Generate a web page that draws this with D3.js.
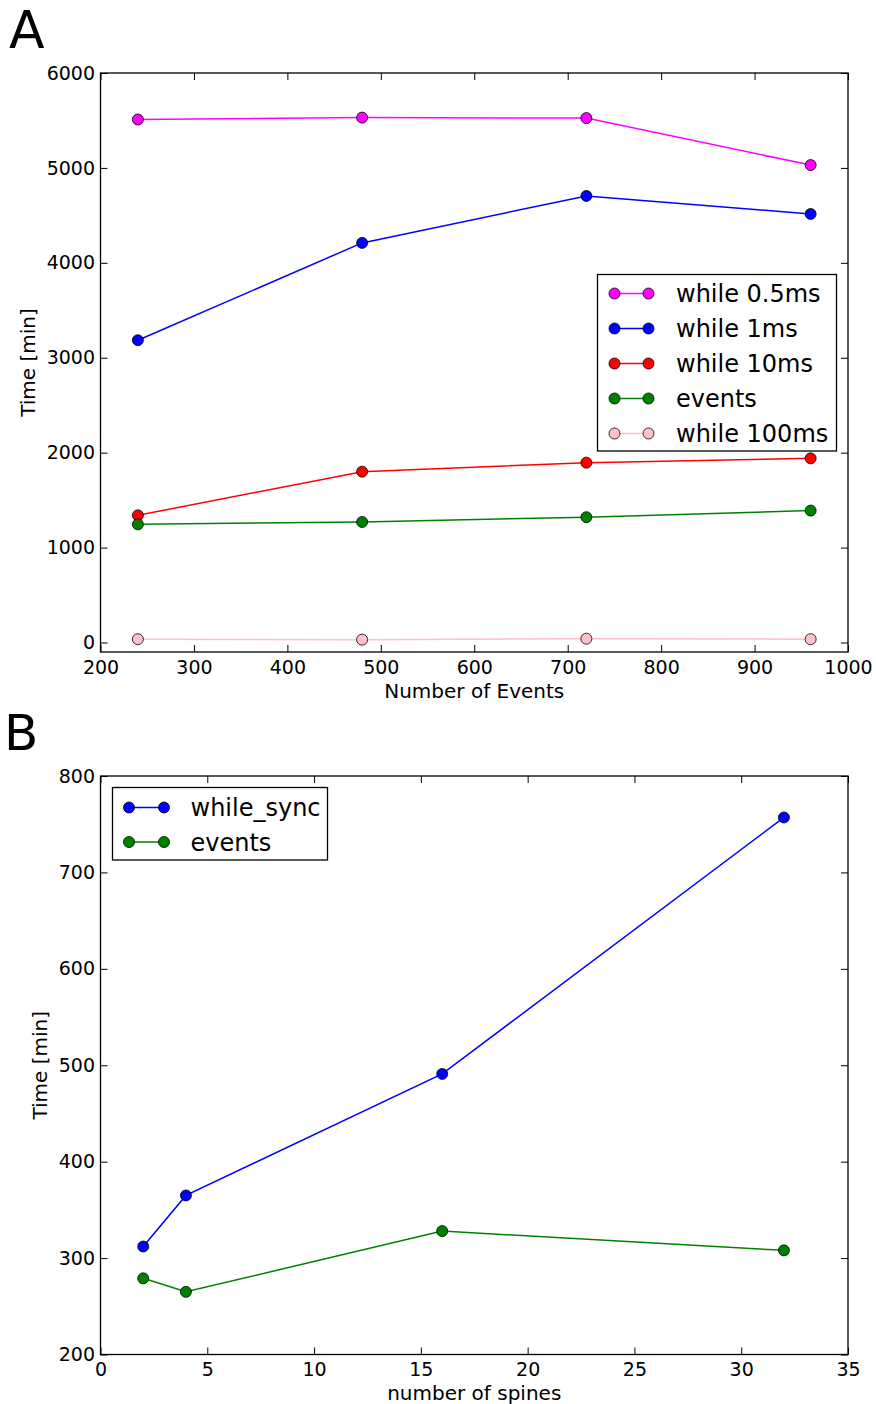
<!DOCTYPE html>
<html>
<head>
<meta charset="utf-8">
<script src="https://cdn.jsdelivr.net/npm/d3@7"></script>
<style>
  html, body { margin: 0; padding: 0; background: #fff; }
  svg { display: block; font-family: "DejaVu Sans", sans-serif; }
</style>
</head>
<body>
<svg id="fig" width="876" height="1404"></svg>
<script>
// Panel A: run time vs. number of events
const eventCounts = [240, 480, 720, 960];
const while05ms = [5510, 5530, 5525, 5030];
const while1ms = [3185, 4210, 4705, 4515];
const while10ms = [1340, 1800, 1895, 1940];
const eventsA = [1245, 1270, 1320, 1390];
const while100ms = [35, 30, 40, 35];
const xTicksA = [200, 300, 400, 500, 600, 700, 800, 900, 1000];
const yTicksA = [0, 1000, 2000, 3000, 4000, 5000, 6000];

// Panel B: run time vs. number of spines
const spineCounts = [2, 4, 16, 32];
const whileSync = [312, 365, 491, 757];
const eventsB = [279, 265, 328, 308];
const xTicksB = [0, 5, 10, 15, 20, 25, 30, 35];
const yTicksB = [200, 300, 400, 500, 600, 700, 800];

const svg = d3.select("#fig");

function panel(cfg) {
  const g = svg.append("g");
  const x = d3.scaleLinear().domain(cfg.xDomain).range([cfg.left, cfg.right]);
  const y = d3.scaleLinear().domain(cfg.yDomain).range([cfg.bottom, cfg.top]);
  const tickLen = 7;

  // inward ticks on all four sides; labels only on bottom and left
  const axes = [
    { a: d3.axisBottom(x).tickValues(cfg.xTicks), t: `translate(0,${cfg.bottom})`, labels: true, pad: cfg.xPad },
    { a: d3.axisTop(x).tickValues(cfg.xTicks), t: `translate(0,${cfg.top})`, labels: false, pad: 0 },
    { a: d3.axisLeft(y).tickValues(cfg.yTicks), t: `translate(${cfg.left},0)`, labels: true, pad: 5.5 },
    { a: d3.axisRight(y).tickValues(cfg.yTicks), t: `translate(${cfg.right},0)`, labels: false, pad: 0 }
  ];
  axes.forEach(ax => {
    const sel = g.append("g").attr("transform", ax.t)
      .call(ax.a.tickSizeInner(-tickLen).tickSizeOuter(0).tickPadding(ax.pad)
        .tickFormat(ax.labels ? d3.format("d") : ""));
    sel.select(".domain").remove();
    sel.selectAll(".tick line").attr("stroke", "#000").attr("stroke-width", 1);
    sel.selectAll(".tick text").attr("fill", "#000").attr("font-size", 19)
      .attr("font-family", "DejaVu Sans, sans-serif");
  });

  // series: lines with round markers
  cfg.series.forEach(s => {
    const pts = cfg.xs.map((xv, i) => [xv, s.values[i]]);
    g.append("path").datum(pts)
      .attr("fill", "none").attr("stroke", s.color).attr("stroke-width", 1.5)
      .attr("d", d3.line().x(d => x(d[0])).y(d => y(d[1])));
    g.selectAll(null).data(pts).enter().append("circle")
      .attr("cx", d => x(d[0])).attr("cy", d => y(d[1])).attr("r", 5.5)
      .attr("fill", s.color).attr("stroke", "#000").attr("stroke-width", 0.8);
  });

  // frame
  g.append("rect").attr("x", cfg.left).attr("y", cfg.top)
    .attr("width", cfg.right - cfg.left).attr("height", cfg.bottom - cfg.top)
    .attr("fill", "none").attr("stroke", "#000").attr("stroke-width", 1.3);

  // axis labels
  g.append("text").attr("x", (cfg.left + cfg.right) / 2).attr("y", cfg.xLabelY)
    .attr("text-anchor", "middle").attr("font-size", 20).text(cfg.xLabel);
  g.append("text").attr("transform", `translate(${cfg.yLabelX},${(cfg.top + cfg.bottom) / 2}) rotate(-90)`)
    .attr("text-anchor", "middle").attr("font-size", 20).text(cfg.yLabel);

  // panel letter
  g.append("text").attr("x", cfg.letterX).attr("y", cfg.letterY)
    .attr("font-size", cfg.letterSize).text(cfg.letter);

  // legend
  const L = cfg.legend;
  const lg = g.append("g");
  lg.append("rect").attr("x", L.x0).attr("y", L.y0).attr("width", L.x1 - L.x0).attr("height", L.y1 - L.y0)
    .attr("fill", "#fff").attr("stroke", "#000").attr("stroke-width", 1.3);
  cfg.series.forEach((s, i) => {
    const ry = L.firstRow + i * L.rowStep;
    lg.append("line").attr("x1", L.h0).attr("x2", L.h1).attr("y1", ry).attr("y2", ry)
      .attr("stroke", s.color).attr("stroke-width", 1.5);
    [L.h0, L.h1].forEach(hx => lg.append("circle").attr("cx", hx).attr("cy", ry).attr("r", 5.5)
      .attr("fill", s.color).attr("stroke", "#000").attr("stroke-width", 0.8));
    lg.append("text").attr("x", L.tx).attr("y", ry).attr("dy", "0.36em")
      .attr("font-size", 24).text(s.name);
  });
}

panel({
  letter: "A", letterX: 9, letterY: 48, letterSize: 52,
  left: 100.5, right: 848, top: 73, bottom: 652,
  xDomain: [200, 1000], yDomain: [-100, 6000],
  xTicks: xTicksA, yTicks: yTicksA, xs: eventCounts, xPad: 8.5,
  xLabel: "Number of Events", xLabelY: 697.5,
  yLabel: "Time [min]", yLabelX: 34.5,
  series: [
    { name: "while 0.5ms", color: "#ff00ff", values: while05ms },
    { name: "while 1ms", color: "#0000ff", values: while1ms },
    { name: "while 10ms", color: "#ff0000", values: while10ms },
    { name: "events", color: "#008000", values: eventsA },
    { name: "while 100ms", color: "#ffc0cb", values: while100ms }
  ],
  legend: { x0: 597.5, y0: 274.5, x1: 836.5, y1: 451, firstRow: 293.5, rowStep: 35, h0: 614.5, h1: 648.5, tx: 676 }
});

panel({
  letter: "B", letterX: 4, letterY: 749.5, letterSize: 50,
  left: 100.5, right: 848, top: 776, bottom: 1354.5,
  xDomain: [0, 35], yDomain: [200, 800],
  xTicks: xTicksB, yTicks: yTicksB, xs: spineCounts, xPad: 8,
  xLabel: "number of spines", xLabelY: 1399.5,
  yLabel: "Time [min]", yLabelX: 47,
  series: [
    { name: "while_sync", color: "#0000ff", values: whileSync },
    { name: "events", color: "#008000", values: eventsB }
  ],
  legend: { x0: 112.5, y0: 787.5, x1: 327.5, y1: 860, firstRow: 807.5, rowStep: 34.5, h0: 129, h1: 164, tx: 190.5 }
});
</script>
</body>
</html>
